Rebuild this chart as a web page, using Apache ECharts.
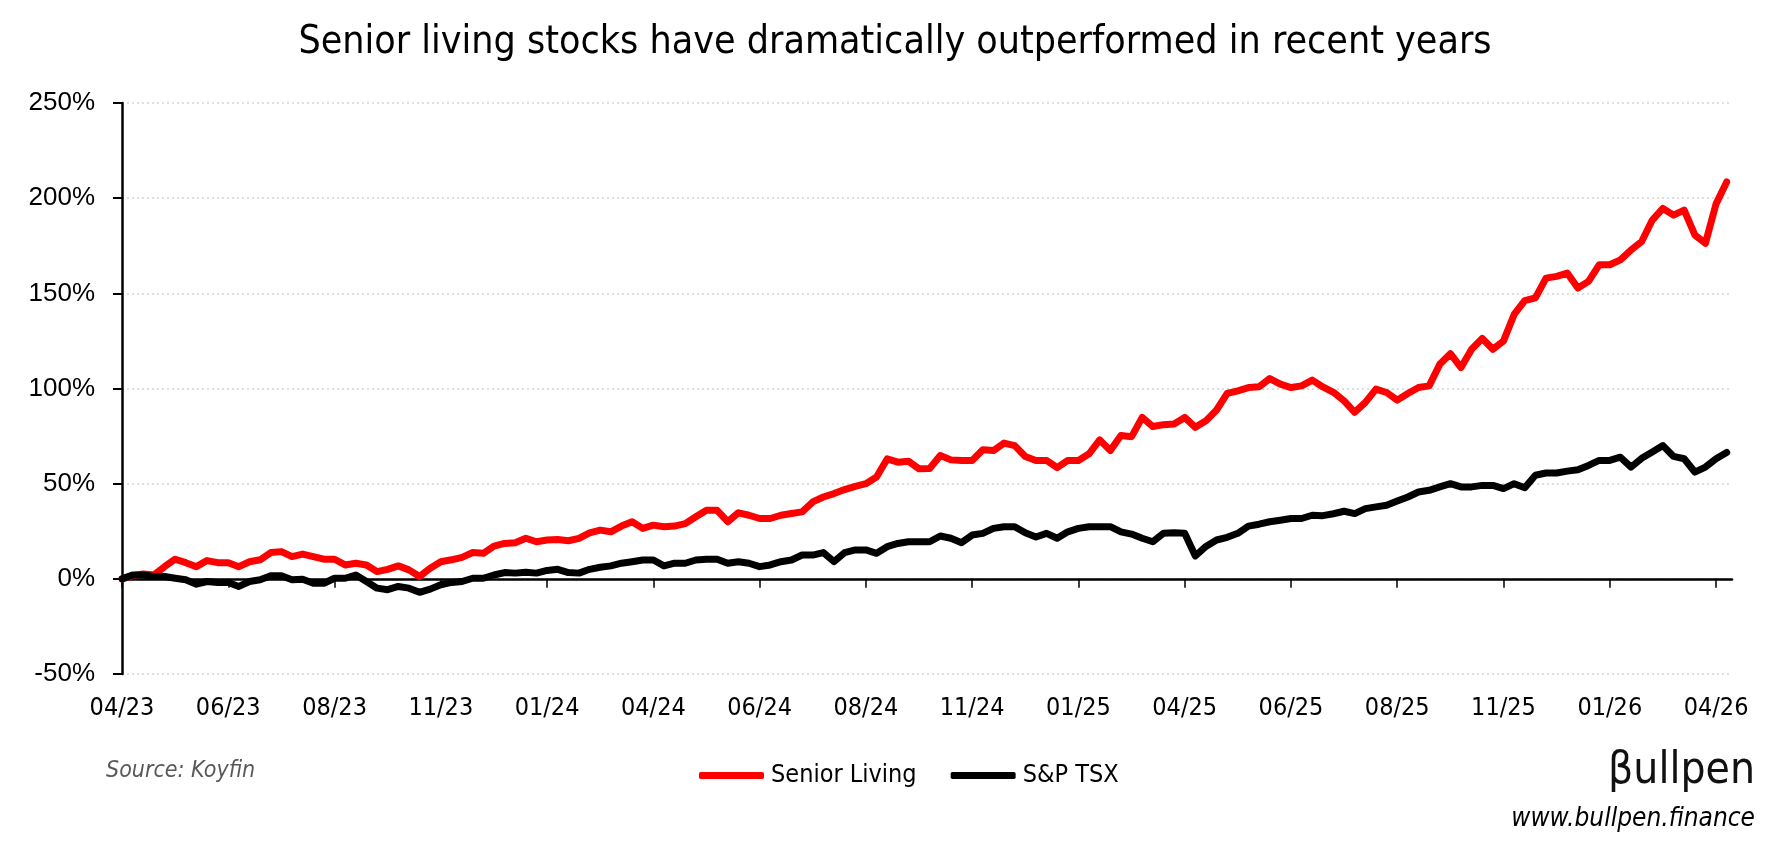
<!DOCTYPE html>
<html>
<head>
<meta charset="utf-8">
<script src="https://cdn.jsdelivr.net/npm/echarts@6/dist/echarts.min.js"></script>
<style>
html,body{margin:0;padding:0;background:#fff;}
#c{width:1790px;height:860px;}
</style>
</head>
<body>
<div id="c"></div>
<script>
const tickLabels = ['04/23','06/23','08/23','11/23','01/24','04/24','06/24','08/24','11/24','01/25','04/25','06/25','08/25','11/25','01/26','04/26'];
const seriesNames = ['Senior Living', 'S&P TSX'];
const seniorLiving = [
0,1.7,2.6,2,6.4,10.3,8.5,6.4,9.6,8.5,
8.5,6.4,9,10,13.8,14.3,11.7,13,11.7,10.3,
10.3,7.3,8.2,7.3,3.8,5,6.8,4.7,1.2,5.6,
9,10,11.3,13.8,13.4,17.2,18.6,19,21.3,19.5,
20.4,20.7,20,21.3,24.2,25.6,24.7,27.7,30,26.5,
28.2,27.4,27.7,29,32.6,36,36,30,34.7,33.4,
31.7,31.7,33.4,34.3,35.2,40.4,43,44.8,46.9,48.6,
50,53.5,63,61.3,61.8,57.8,58,64.8,62.5,62.2,
62.2,67.8,67.4,71.3,70,64.3,62.2,62.2,58.4,62.2,
62.2,65.7,73,67.4,75.3,74.7,84.8,80,81,81.4,
84.8,79.6,83,88.7,97.4,98.8,100.5,100.9,105.2,102.3,
100.5,101.4,104.4,100.8,98,93.5,87.5,92.7,99.7,97.9,
93.9,97.4,100.5,101.4,112.7,118.3,111,120.6,126.3,120.6,
125,138.9,146.2,147.6,158,158.9,160.6,152.8,156.3,165,
165,167.6,172.8,177.2,188.5,194.6,191.1,193.7,180.7,176.3,
197,208.5
];
const spTsx = [
0,2,2,1.2,1.2,0.3,-0.5,-2.8,-1.4,-1.9,
-1.9,-4,-1.4,-0.5,1.6,1.6,-0.5,-0.2,-2.3,-2.3,
0.3,0.3,2,-1.4,-4.9,-5.7,-4,-4.9,-7.1,-5.4,
-3.1,-1.9,-1.4,0.3,0.3,2,3.3,3,3.5,3,
4.4,5,3.3,3,5,6.1,6.8,8.2,9,9.9,
9.9,6.8,8.2,8.2,9.9,10.3,10.3,8.2,9,8.2,
6.4,7.3,9,9.9,12.5,12.5,13.8,9,13.8,15.2,
15.2,13.4,16.9,18.6,19.5,19.5,19.5,22.5,21.3,19,
23,23.9,26.5,27.4,27.4,24.2,22,23.9,21.3,24.7,
26.5,27.4,27.4,27.4,24.7,23.5,21.3,19.5,23.9,24.2,
24,12,17,20.4,21.8,23.9,27.7,28.7,30,30.8,
31.7,31.7,33.4,33.2,34.2,35.5,34.3,36.9,37.8,38.7,
40.9,43,45.6,46.5,48.3,50,48.3,48.3,49.1,49.1,
47.4,50,47.9,54.4,55.6,55.6,56.6,57.3,59.6,62.2,
62.2,63.9,58.7,63.3,66.6,70,64.3,63.1,56.1,58.7,
63.1,66.4
];
const titleText = 'Senior living stocks have dramatically outperformed in recent years';

const NARROW = '"Liberation Sans Narrow","DejaVu Sans Condensed","Roboto Condensed",sans-serif';
const STEP = 10;
const tickPos = tickLabels.map((_, k) => k * STEP);
const toPairs = arr => arr.map((v, i) => [i, v]);

const chart = echarts.init(document.getElementById('c'));
chart.setOption({
  animation: false,
  backgroundColor: '#fff',
  title: {
    text: titleText,
    left: 'center',
    top: 18,
    textStyle: { fontFamily: NARROW, fontSize: 39, fontWeight: 'normal', color: '#000' }
  },
  legend: {
    left: 694,
    top: 758,
    itemWidth: 65,
    itemHeight: 7,
    itemGap: 34,
    icon: 'roundRect',
    data: seriesNames,
    textStyle: { fontFamily: NARROW, fontSize: 25, color: '#000', padding: [0, 0, 0, 2] }
  },
  grid: { left: 122, right: 58, top: 103, bottom: 186, containLabel: false },
  xAxis: [
    {
      type: 'value', min: 0, max: 151.5, interval: STEP,
      axisLine: { show: false, onZero: false },
      axisTick: { show: false },
      splitLine: { show: false },
      axisLabel: {
        customValues: tickPos,
        margin: 22,
        fontFamily: NARROW, fontSize: 25, color: '#000',
        formatter: v => tickLabels[Math.round(v / STEP)] || ''
      }
    },
    {
      type: 'value', min: 0, max: 151.5, interval: STEP, position: 'bottom',
      axisLine: { show: true, onZero: true, lineStyle: { color: '#000', width: 2.5 } },
      axisTick: { show: true, customValues: tickPos, inside: false, length: 9, lineStyle: { color: '#000', width: 1.5 } },
      axisLabel: { show: false },
      splitLine: { show: false }
    }
  ],
  yAxis: {
    type: 'value', min: -50, max: 250, interval: 50,
    axisLine: { show: true, onZero: false, lineStyle: { color: '#000', width: 2.5 } },
    axisTick: { show: true, length: 9, lineStyle: { color: '#000', width: 2 } },
    axisLabel: {
      margin: 27,
      fontFamily: '"Liberation Sans", Arial, sans-serif', fontSize: 26, color: '#000',
      formatter: v => v + '%'
    },
    splitLine: { show: true, lineStyle: { color: '#d4d4d4', width: 1.5, type: [2, 3] } }
  },
  series: [
    {
      name: seriesNames[0], type: 'line', data: toPairs(seniorLiving), xAxisIndex: 0,
      showSymbol: false, symbol: 'none',
      lineStyle: { color: '#ff0000', width: 7, cap: 'round', join: 'round' },
      itemStyle: { color: '#ff0000' }
    },
    {
      name: seriesNames[1], type: 'line', data: toPairs(spTsx), xAxisIndex: 0,
      showSymbol: false, symbol: 'none',
      lineStyle: { color: '#000000', width: 7, cap: 'round', join: 'round' },
      itemStyle: { color: '#000000' }
    }
  ],
  graphic: [
    { type: 'text', left: 106, top: 760,
      style: { text: 'Source: Koyfin', font: 'italic 23px ' + NARROW, fill: '#595959' } },
    { type: 'text', right: 35, top: 750,
      style: { text: 'βullpen', font: 'normal 44px ' + NARROW, fill: '#111' } },
    { type: 'text', right: 35, top: 806,
      style: { text: 'www.bullpen.finance', font: 'italic 26px ' + NARROW, fill: '#000' } }
  ]
});
</script>
</body>
</html>
